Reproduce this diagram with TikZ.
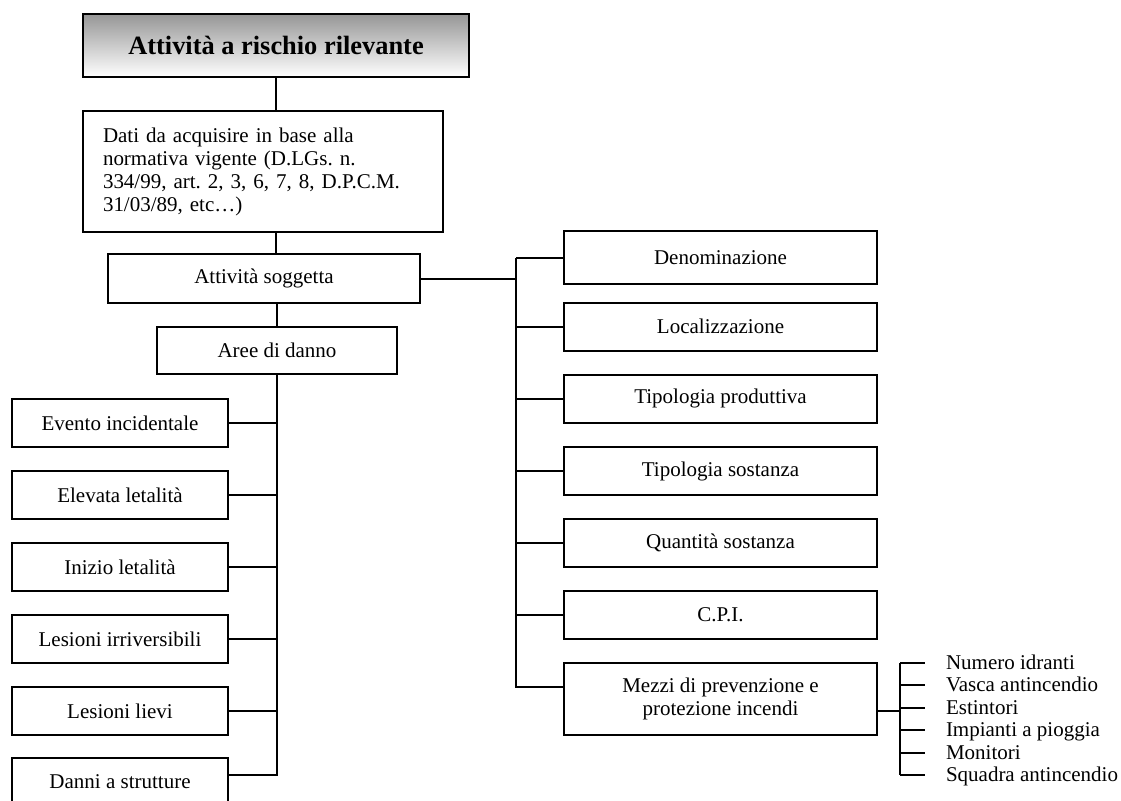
\documentclass[tikz,border=0pt]{standalone}
\usepackage{fontspec}
\setmainfont{Liberation Serif}
\usepackage{tikz}
\usetikzlibrary{positioning,calc}
\definecolor{ARRGrey}{HTML}{969696}
\frenchspacing

\begin{document}
\begin{tikzpicture}[x=0.5pt,y=-0.5pt,line width=1pt,
 box/.style={draw,line width=1pt,fill=white,align=center,inner sep=0pt,font=\fontsize{10.5}{11.5}\selectfont},
 lbox/.style={box,minimum width=108pt,minimum height=24pt},
 rbox/.style={box,minimum width=156.5pt,minimum height=24pt},
 item/.style={anchor=west,inner xsep=10pt,inner ysep=0pt,text height=8.4pt,text depth=2pt,font=\fontsize{10.5}{11.5}\selectfont}]
\useasboundingbox (0,0) rectangle (1121,800);
\node[box,top color=ARRGrey,bottom color=white,minimum width=193pt,minimum height=31.5pt,font=\fontsize{13.2}{15}\selectfont\bfseries] (titolo) at (276,45.5) {Attività a rischio rilevante};
\node[box,align=left,text width=160pt,inner xsep=10pt,minimum height=60.5pt] (dati) at (263,171.5) {Dati da acquisire in base alla\\normativa vigente (D.LGs. n.\\334/99, art. 2, 3, 6, 7, 8, D.P.C.M.\\31/03/89, etc…)};
\node[box,minimum width=156pt,minimum height=24.5pt] (sogg) at (264,278.5) {Attività soggetta};
\node[box,minimum width=120pt,minimum height=23.5pt] (aree) at (277,350.5) {Aree di danno};

\node[lbox] (evento) at (120,423) {Evento incidentale};
\node[lbox] (elevata) at (120,495) {Elevata letalità};
\node[lbox] (inizio) at (120,567) {Inizio letalità};
\node[lbox] (irrev) at (120,639) {Lesioni irriversibili};
\node[lbox] (lievi) at (120,711) {Lesioni lievi};
\node[lbox] (danni) at (120,782) {Danni a strutture};

\node[rbox,minimum height=26.5pt] (denom) at (720.5,257.5) {Denominazione};
\node[rbox] (local) at (720.5,326.5) {Localizzazione};
\node[rbox] (tprod) at (720.5,398.5) {Tipologia produttiva};
\node[rbox] (tsost) at (720.5,471) {Tipologia sostanza};
\node[rbox] (qsost) at (720.5,543) {Quantità sostanza};
\node[rbox] (cpi) at (720.5,615) {C.P.I.};
\node[rbox,minimum height=36pt] (mezzi) at (720.5,699) {Mezzi di prevenzione e\\protezione incendi};

\coordinate (lbot) at (277,775);
\coordinate (rtop) at (516,257.5);
\coordinate (rbot) at (516,687);
\coordinate (mx) at (900,711);

\draw (titolo.south) -- (titolo.south |- dati.north);
\draw (dati.south -| titolo.south) -- (sogg.north -| titolo.south);
\draw (sogg.south -| aree.north) -- (aree.north);
\draw (aree.south) -- (lbot) -- (danni.east |- lbot);
\foreach \n in {evento,elevata,inizio,irrev,lievi}
  \draw (\n.east) -- (\n.east -| lbot);

\draw (sogg.east) -- (sogg.east -| rtop);
\draw (rtop) -- (rbot) -- (rbot -| mezzi.west);
\foreach \n in {denom,local,tprod,tsost,qsost,cpi}
  \draw (\n.west -| rtop) -- (\n.west);

\foreach \t [count=\i] in {Numero idranti,Vasca antincendio,Estintori,Impianti a pioggia,Monitori,Squadra antincendio}{
  \node[item] (m\i) at (925,{663+22.4*(\i-1)}) {\t};
  \draw (m\i.west -| mx) -- (m\i.west);
}
\draw (mezzi.east |- mx) -- (mx);
\draw (m1.west -| mx) -- (m6.west -| mx);
\end{tikzpicture}
\end{document}
